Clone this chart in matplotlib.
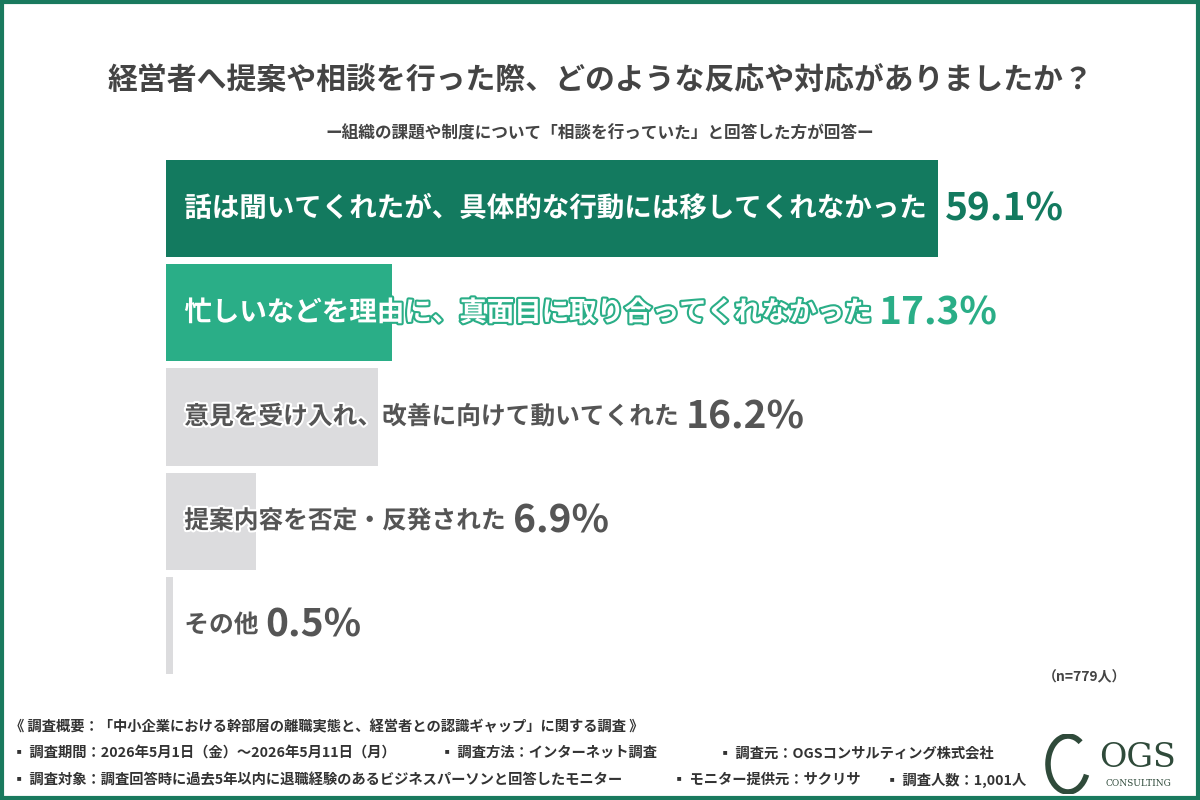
import matplotlib

matplotlib.use("Agg")
import matplotlib.pyplot as plt
import matplotlib.patheffects as pe
from matplotlib.patches import Rectangle, Arc

plt.rcParams["font.family"] = ["Noto Sans CJK JP", "DejaVu Sans"]

labels = [
    "話は聞いてくれたが、具体的な行動には移してくれなかった",
    "忙しいなどを理由に、真面目に取り合ってくれなかった",
    "意見を受け入れ、改善に向けて動いてくれた",
    "提案内容を否定・反発された",
    "その他",
]
values = [59.1, 17.3, 16.2, 6.9, 0.5]
bar_colors = ["#137a5f", "#2aae87", "#dcdcde", "#dcdcde", "#dcdcde"]
pct_colors = ["#137a5f", "#2aae87", "#555555", "#555555", "#555555"]
text_colors = ["white", "white", "#555555", "#555555", "#555555"]
label_sizes = [19.8, 19.8, 17.8, 17.8, 17.8]

W, H = 1200, 800
fig = plt.figure(figsize=(12, 8), dpi=100)
fig.patches.append(Rectangle((0.0015, 0.002), 0.997, 0.996, transform=fig.transFigure,
                             fill=False, edgecolor="#1a7a5e", linewidth=3))

fig.text(0.5, 1 - 80 / H, "経営者へ提案や相談を行った際、どのような反応や対応がありましたか？",
         ha="center", va="center", fontsize=21.5, fontweight="bold", color="#444444")
fig.text(0.5, 1 - 133 / H, "ー組織の課題や制度について「相談を行っていた」と回答した方が回答ー",
         ha="center", va="center", fontsize=12, fontweight="bold", color="#444444")

px_per_pct = 772 / 59.1
ax = fig.add_axes([166 / W, 126 / H, (W - 166) / W, 514 / H])
ax.set_xlim(0, (W - 166) / px_per_pct)
h = 97 / 104
ax.set_ylim(len(values) - 1 + h / 2, -h / 2)
ax.axis("off")

y = list(range(len(values)))
ax.barh(y, values, height=h, color=bar_colors)
for i, (lab, v) in enumerate(zip(labels, values)):
    stroke = bar_colors[i] if i < 2 else "white"
    t = ax.text(1.4, i, lab, ha="left", va="center", fontsize=label_sizes[i], fontweight="bold",
                color=text_colors[i])
    t.set_path_effects([pe.withStroke(linewidth=3, foreground=stroke)])
    fig.canvas.draw()
    bb = t.get_window_extent().transformed(ax.transData.inverted())
    ax.text(max(bb.x1, v) + 0.5, i, f"{v}%", ha="left", va="center", fontsize=28,
            fontweight="bold", color=pct_colors[i])

fig.text(1085 / W, 1 - 677 / H, "（n=779人）", ha="center", va="center", fontsize=10,
         fontweight="bold", color="#444444")

foot = "#333333"
fs = 10.3
fig.text(10 / W, 1 - 727 / H, "《 調査概要：「中小企業における幹部層の離職実態と、経営者との認識ギャップ」に関する調査 》",
         ha="left", va="center", fontsize=fs, fontweight="bold", color=foot)
row2 = [(12, "▪ 調査期間：2026年5月1日（金）～2026年5月11日（月）"),
        (440, "▪ 調査方法：インターネット調査"),
        (718, "▪ 調査元：OGSコンサルティング株式会社")]
row3 = [(12, "▪ 調査対象：調査回答時に過去5年以内に退職経験のあるビジネスパーソンと回答したモニター"),
        (672, "▪ モニター提供元：サクリサ"),
        (885, "▪ 調査人数：1,001人")]
for x, s in row2:
    fig.text(x / W, 1 - 753 / H, s, ha="left", va="center", fontsize=fs, fontweight="bold", color=foot)
for x, s in row3:
    fig.text(x / W, 1 - 780 / H, s, ha="left", va="center", fontsize=fs, fontweight="bold", color=foot)

# logo
lax = fig.add_axes([1040 / W, 6 / H, 150 / W, 60 / H])
lax.set_xlim(0, 150)
lax.set_ylim(0, 60)
lax.axis("off")
lax.add_patch(Arc((28, 30), 40, 56, theta1=60, theta2=330, color="#2f4a3a", linewidth=4))
lax.text(98, 36, "OGS", ha="center", va="center", fontsize=24, family="DejaVu Serif",
         color="#2f4a3a")
lax.text(98, 10, "CONSULTING", ha="center", va="center", fontsize=6.5, family="DejaVu Serif",
         color="#2f4a3a")

fig.savefig("out.png", dpi=100)
